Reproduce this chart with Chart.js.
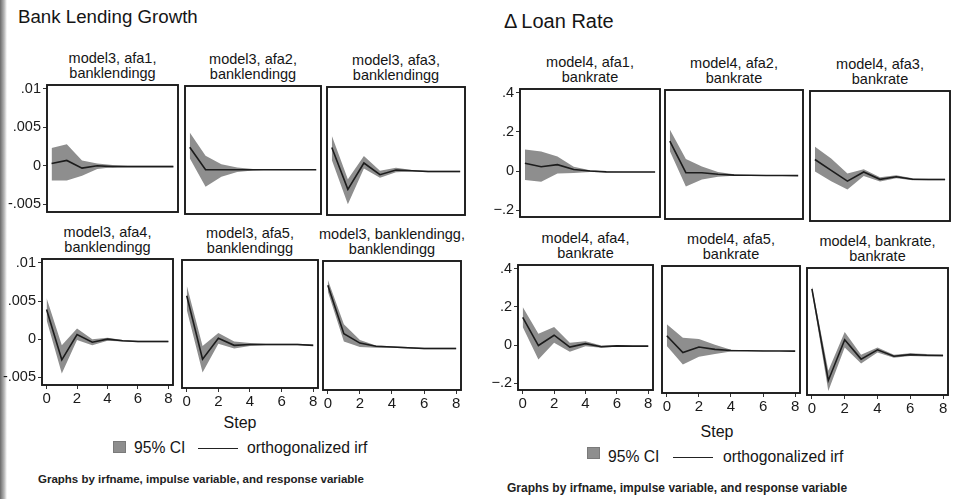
<!DOCTYPE html>
<html>
<head>
<meta charset="utf-8">
<script src="https://cdn.jsdelivr.net/npm/chart.js@4.4.1/dist/chart.umd.min.js"></script>
<style>
  body { margin: 0; width: 964px; height: 499px; background: #fff; position: relative; overflow: hidden;
         font-family: "Liberation Sans", Arial, sans-serif; color: #151515; }
  .t { position: absolute; white-space: nowrap; line-height: 1.15; }
  .ptitle { position: absolute; text-align: center; font-size: 14.5px; line-height: 15px; white-space: nowrap; }
  .box { position: absolute; }
  .sq { position: absolute; width: 11px; height: 10px; background: #8e8e8e; border: 1px solid #7a7a7a; }
  .ln { position: absolute; height: 0; border-top: 1.2px solid #222; }
  .note { font-weight: bold; color: #222; }
  .edge { position: absolute; left: 0; top: 0; width: 7px; height: 499px;
          background: linear-gradient(to right, #6a6a6a, #b8b8b8 60%, #fff); }
</style>
</head>
<body>
<div class="edge"></div>
<div class="t" style="left:18px;top:6px;font-size:18.7px;">Bank Lending Growth</div>
<div class="t" style="left:504px;top:10px;font-size:20px;">&Delta;&thinsp;Loan Rate</div>

<div class="t" style="left:240px;top:414px;font-size:16px;transform:translateX(-50%);">Step</div>
<div class="t" style="left:717px;top:423px;font-size:16px;transform:translateX(-50%);">Step</div>

<div class="sq" style="left:113px;top:441px;"></div>
<div class="t" style="left:134px;top:439px;font-size:15.7px;">95% CI</div>
<div class="ln" style="left:198px;top:448px;width:40px;"></div>
<div class="t" style="left:247px;top:439px;font-size:15.7px;">orthogonalized irf</div>
<div class="t note" style="left:38px;top:473px;font-size:11.5px;">Graphs by irfname, impulse variable, and response variable</div>

<div class="sq" style="left:587px;top:447px;"></div>
<div class="t" style="left:608px;top:448px;font-size:15.7px;">95% CI</div>
<div class="ln" style="left:673px;top:457px;width:40px;"></div>
<div class="t" style="left:723px;top:448px;font-size:15.7px;">orthogonalized irf</div>
<div class="t note" style="left:507px;top:482px;font-size:12px;">Graphs by irfname, impulse variable, and response variable</div>

<script>
// steps on the x axis
const steps = [0, 1, 2, 3, 4, 5, 6, 7, 8];
const xTickVals = [0, 2, 4, 6, 8];

// y ticks
const blTickVals = [-0.005, 0, 0.005, 0.01];
const blTickLabels = ['-.005', '0', '.005', '.01'];
const lrTickVals = [-0.2, 0, 0.2, 0.4];
const lrTickLabels = ['\u2212.2', '0', '.2', '.4'];

// panel titles
const blTitles = [
    ['model3, afa1,', 'banklendingg'], ['model3, afa2,', 'banklendingg'], ['model3, afa3,', 'banklendingg'],
    ['model3, afa4,', 'banklendingg'], ['model3, afa5,', 'banklendingg'], ['model3, banklendingg,', 'banklendingg']
];
const lrTitles = [
    ['model4, afa1,', 'bankrate'], ['model4, afa2,', 'bankrate'], ['model4, afa3,', 'bankrate'],
    ['model4, afa4,', 'bankrate'], ['model4, afa5,', 'bankrate'], ['model4, bankrate,', 'bankrate']
];

// bank lending growth (model3) irf, upper and lower 95% CI
const irfBL1 = [0.0003, 0.0007, -0.0003, 0.0000, -0.0001, -0.0001, -0.0001, -0.0001, -0.0001];
const hiBL1  = [0.0023, 0.0028, 0.0007, 0.0003, 0.0001, 0.0000, 0.0000, 0.0000, 0.0000];
const loBL1  = [-0.0019, -0.0019, -0.0013, -0.0004, -0.0002, -0.0001, -0.0001, -0.0001, -0.0001];

const irfBL2 = [0.0026, -0.0003, -0.0003, -0.0003, -0.0003, -0.0003, -0.0003, -0.0003, -0.0003];
const hiBL2  = [0.0045, 0.0015, 0.0004, 0.0000, -0.0002, -0.0003, -0.0003, -0.0003, -0.0003];
const loBL2  = [0.0012, -0.0025, -0.0012, -0.0006, -0.0004, -0.0003, -0.0003, -0.0003, -0.0003];

const irfBL3 = [0.0027, -0.0027, 0.0007, -0.0008, -0.0002, -0.0003, -0.0004, -0.0004, -0.0004];
const hiBL3  = [0.0042, -0.0014, 0.0016, -0.0003, 0.0001, -0.0002, -0.0003, -0.0003, -0.0003];
const loBL3  = [0.0011, -0.0046, 0.0000, -0.0012, -0.0005, -0.0004, -0.0005, -0.0005, -0.0005];

const irfBL4 = [0.0039, -0.0027, 0.0006, -0.0004, 0.0000, -0.0002, -0.0003, -0.0003, -0.0003];
const hiBL4  = [0.0054, -0.0008, 0.0014, 0.0000, 0.0002, -0.0001, -0.0002, -0.0002, -0.0002];
const loBL4  = [0.0025, -0.0045, -0.0001, -0.0008, -0.0002, -0.0003, -0.0004, -0.0004, -0.0004];

const irfBL5 = [0.0059, -0.0023, 0.0004, -0.0005, -0.0004, -0.0004, -0.0004, -0.0004, -0.0005];
const hiBL5  = [0.0072, -0.0006, 0.0011, 0.0000, -0.0002, -0.0003, -0.0003, -0.0003, -0.0004];
const loBL5  = [0.0041, -0.0040, -0.0003, -0.0009, -0.0006, -0.0005, -0.0005, -0.0005, -0.0006];

const irfBL6 = [0.0074, 0.0012, 0.0000, -0.0004, -0.0005, -0.0006, -0.0007, -0.0007, -0.0007];
const hiBL6  = [0.0081, 0.0024, 0.0004, -0.0003, -0.0004, -0.0005, -0.0006, -0.0006, -0.0006];
const loBL6  = [0.0066, 0.0002, -0.0005, -0.0006, -0.0006, -0.0007, -0.0008, -0.0008, -0.0008];

// loan rate (model4) irf, upper and lower 95% CI
const irfLR1 = [0.040, 0.022, 0.033, 0.008, 0.000, -0.004, -0.005, -0.005, -0.005];
const hiLR1  = [0.110, 0.100, 0.075, 0.022, 0.004, -0.002, -0.003, -0.004, -0.004];
const loLR1  = [-0.045, -0.055, -0.012, -0.010, -0.005, -0.006, -0.006, -0.006, -0.006];

const irfLR2 = [0.160, 0.000, 0.000, -0.008, -0.012, -0.013, -0.014, -0.014, -0.015];
const hiLR2  = [0.220, 0.070, 0.032, 0.004, -0.008, -0.011, -0.013, -0.013, -0.014];
const loLR2  = [0.110, -0.070, -0.035, -0.020, -0.016, -0.015, -0.015, -0.015, -0.016];

const irfLR3 = [0.075, 0.020, -0.034, 0.012, -0.025, -0.012, -0.025, -0.026, -0.026];
const hiLR3  = [0.140, 0.080, 0.004, 0.026, -0.015, -0.005, -0.020, -0.022, -0.022];
const loLR3  = [0.015, -0.035, -0.076, -0.008, -0.036, -0.020, -0.030, -0.030, -0.030];

const irfLR4 = [0.145, -0.002, 0.052, -0.010, 0.008, -0.008, -0.004, -0.005, -0.005];
const hiLR4  = [0.200, 0.060, 0.095, 0.012, 0.020, -0.002, -0.001, -0.003, -0.003];
const loLR4  = [0.095, -0.075, 0.012, -0.035, -0.006, -0.014, -0.008, -0.007, -0.007];

const irfLR5 = [0.060, -0.026, 0.002, -0.010, -0.016, -0.017, -0.018, -0.018, -0.019];
const hiLR5  = [0.120, 0.050, 0.043, 0.014, -0.012, -0.015, -0.016, -0.017, -0.017];
const loLR5  = [0.008, -0.088, -0.048, -0.034, -0.021, -0.019, -0.019, -0.019, -0.020];

const irfLR6 = [0.312, -0.160, 0.050, -0.050, -0.002, -0.035, -0.027, -0.030, -0.031];
const hiLR6  = [0.325, -0.110, 0.090, -0.028, 0.010, -0.027, -0.020, -0.024, -0.026];
const loLR6  = [0.298, -0.215, 0.010, -0.072, -0.016, -0.043, -0.034, -0.036, -0.036];

// plot boxes (left, top, width, height) for each panel
const blBoxes = [[47, 85, 131, 127], [185, 86, 136, 128], [327, 87, 138, 128],
                 [42, 259, 131, 126], [182, 260, 136, 128], [323, 261, 138, 129]];
const lrBoxes = [[520, 89, 140, 128], [665, 90, 138, 129], [810, 91, 140, 130],
                 [518, 265, 135, 125], [662, 266, 138, 127], [807, 268, 141, 127]];

const groups = [
    { titles: blTitles, boxes: blBoxes, yMin: -0.006, yMax: 0.0105, tickVals: blTickVals, tickLabels: blTickLabels,
      series: [[irfBL1, hiBL1, loBL1], [irfBL2, hiBL2, loBL2], [irfBL3, hiBL3, loBL3],
               [irfBL4, hiBL4, loBL4], [irfBL5, hiBL5, loBL5], [irfBL6, hiBL6, loBL6]] },
    { titles: lrTitles, boxes: lrBoxes, yMin: -0.235, yMax: 0.42, tickVals: lrTickVals, tickLabels: lrTickLabels,
      series: [[irfLR1, hiLR1, loLR1], [irfLR2, hiLR2, loLR2], [irfLR3, hiLR3, loLR3],
               [irfLR4, hiLR4, loLR4], [irfLR5, hiLR5, loLR5], [irfLR6, hiLR6, loLR6]] }
];

// draws the full box around each plot region
const framePlugin = {
    id: 'frame',
    afterDraw(chart) {
        const a = chart.chartArea, c = chart.ctx;
        c.save();
        c.strokeStyle = '#1a1a1a';
        c.lineWidth = 1.9;
        c.strokeRect(a.left, a.top, a.right - a.left, a.bottom - a.top);
        c.restore();
    }
};

function pts(arr) {
    return steps.map((s, i) => ({ x: s, y: arr[i] }));
}

groups.forEach(g => {
    g.series.forEach((s, k) => {
        const [bx, by, bw, bh] = g.boxes[k];
        const showY = k % 3 === 0;
        const showX = k >= 3;
        const yW = showY ? 40 : 0;
        const xH = showX ? 24 : 0;
        const pad = { top: 2, right: 2, left: showY ? 0 : 2, bottom: showX ? 0 : 2 };

        // panel title
        const tt = document.createElement('div');
        tt.className = 'ptitle';
        tt.style.left = (bx - 10) + 'px';
        tt.style.width = (bw + 20) + 'px';
        tt.style.top = (by - 34) + 'px';
        tt.innerHTML = g.titles[k][0] + '<br>' + g.titles[k][1];
        document.body.appendChild(tt);

        const wrap = document.createElement('div');
        wrap.className = 'box';
        wrap.style.left = (bx - yW - pad.left) + 'px';
        wrap.style.top = (by - pad.top) + 'px';
        wrap.style.width = (bw + yW + pad.left + pad.right) + 'px';
        wrap.style.height = (bh + xH + pad.top + pad.bottom) + 'px';
        const cv = document.createElement('canvas');
        wrap.appendChild(cv);
        document.body.appendChild(wrap);

        new Chart(cv.getContext('2d'), {
            type: 'line',
            data: {
                datasets: [
                    { label: 'orthogonalized irf', data: pts(s[0]), borderColor: '#1c1c1c', borderWidth: 1.6,
                      pointRadius: 0, fill: false, tension: 0 },
                    { label: '95% CI', data: pts(s[1]), borderWidth: 0, borderColor: 'rgba(0,0,0,0)',
                      backgroundColor: '#8e8e8e', pointRadius: 0, fill: '+1', tension: 0 },
                    { label: 'lower', data: pts(s[2]), borderWidth: 0, borderColor: 'rgba(0,0,0,0)',
                      pointRadius: 0, fill: false, tension: 0 }
                ]
            },
            options: {
                responsive: true,
                maintainAspectRatio: false,
                animation: false,
                layout: { padding: pad },
                plugins: { legend: { display: false }, tooltip: { enabled: false } },
                scales: {
                    x: {
                        type: 'linear', min: -0.3, max: 8.3, display: showX,
                        afterBuildTicks: sc => { sc.ticks = xTickVals.map(v => ({ value: v })); },
                        afterFit: sc => { sc.height = xH; sc.paddingLeft = 0; sc.paddingRight = 0; },
                        grid: { display: true, drawOnChartArea: false, tickLength: 4, color: '#333' },
                        border: { display: false },
                        ticks: { font: { size: 15, family: 'Liberation Sans' }, color: '#1a1a1a', padding: 1, maxRotation: 0 }
                    },
                    y: {
                        type: 'linear', min: g.yMin, max: g.yMax, display: showY,
                        afterBuildTicks: sc => { sc.ticks = g.tickVals.map(v => ({ value: v })); },
                        afterFit: sc => { sc.width = yW; sc.paddingTop = 0; sc.paddingBottom = 0; },
                        grid: { display: true, drawOnChartArea: false, tickLength: 4, color: '#333' },
                        border: { display: false },
                        ticks: {
                            font: { size: 14.5, family: 'Liberation Sans' }, color: '#1a1a1a', padding: 2,
                            callback: v => {
                                const i = g.tickVals.findIndex(t => Math.abs(t - v) < 1e-9);
                                return i >= 0 ? g.tickLabels[i] : '';
                            }
                        }
                    }
                }
            },
            plugins: [framePlugin]
        });
    });
});
</script>
</body>
</html>
